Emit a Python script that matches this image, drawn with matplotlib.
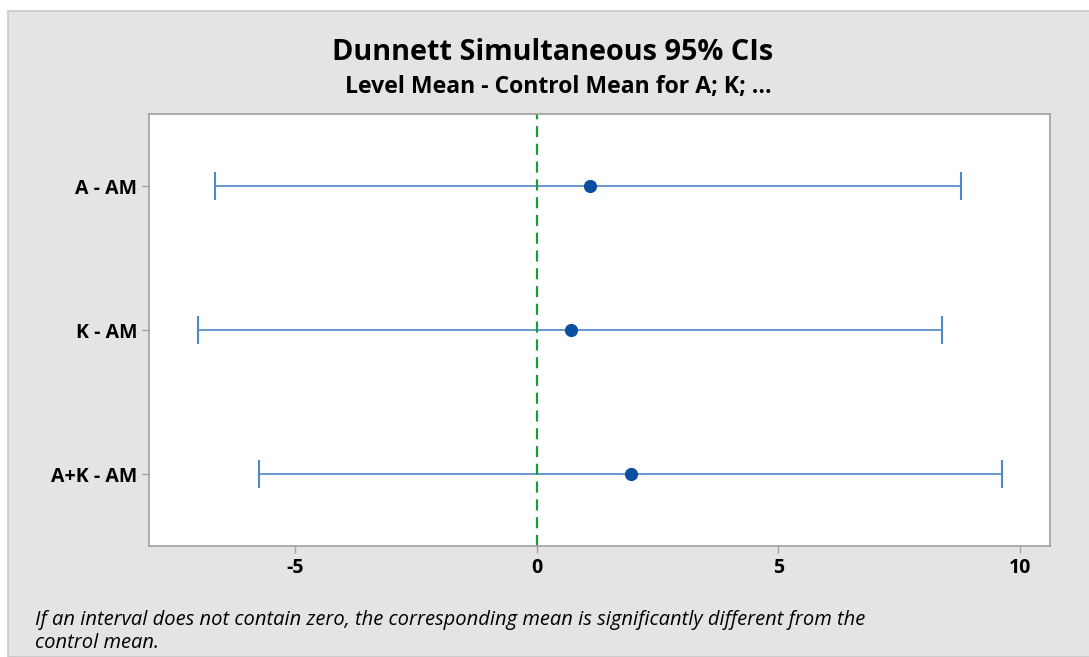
import matplotlib.pyplot as plt
from matplotlib.patches import Rectangle

# comparaciones contra el control
labels = ['A - AM', 'K - AM', 'A+K - AM']
centers = [1.10, 0.70, 1.95]
lowers = [-6.67, -7.02, -5.76]
uppers = [8.78, 8.39, 9.63]
xticks = [-5, 0, 5, 10]

plt.rcParams['font.family'] = ['Open Sans', 'DejaVu Sans']

fig = plt.figure(figsize=(10.89, 6.57), dpi=100, facecolor='white')
# panel gris de fondo
fig.patches.append(Rectangle((8 / 1089, 0), 1.0, 1 - 11 / 657, transform=fig.transFigure,
                             facecolor='#e4e4e4', edgecolor='#c8c8c8', linewidth=1.2, zorder=-10))

ax = fig.add_axes([149 / 1089, 1 - 546 / 657, (1050 - 149) / 1089, (546 - 114) / 657])
ax.set_facecolor('white')

ypos = [1, 2, 3]
for y, c, lo, hi in zip(ypos, centers, lowers, uppers):
    ax.errorbar(c, y, xerr=[[c - lo], [hi - c]], fmt='o', color='#0b4fa0', ecolor='#4f88c6',
                elinewidth=1.2, capsize=10, capthick=1.5, markersize=8.5)

ax.axvline(0, color='#1a9a3a', linestyle=(0, (5, 3)), linewidth=1.6)

ax.set_xlim(-8.03, 10.62)
ax.set_ylim(3.5, 0.5)
ax.set_yticks(ypos)
ax.set_yticklabels(labels, fontsize=14, fontweight='bold')
ax.set_xticks(xticks)
ax.set_xticklabels([str(t) for t in xticks], fontsize=14, fontweight='bold')
ax.tick_params(color='#a0a0a0', length=5, width=1)
for s in ax.spines.values():
    s.set_color('#a0a0a0')
    s.set_linewidth(1.2)

fig.text(553 / 1089, 1 - 53 / 657, 'Dunnett Simultaneous 95% CIs', ha='center', va='center',
         fontsize=20.8, fontweight='bold')
fig.text(558 / 1089, 1 - 87 / 657, 'Level Mean - Control Mean for A; K; ...', ha='center', va='center',
         fontsize=16.6, fontweight='bold')
fig.text(35 / 1089, 1 - 620 / 657,
         'If an interval does not contain zero, the corresponding mean is significantly different from the',
         ha='left', va='center', fontsize=14.5, style='italic')
fig.text(35 / 1089, 1 - 643 / 657, 'control mean.', ha='left', va='center', fontsize=14.5, style='italic')

fig.savefig('out.png', dpi=100, facecolor=fig.get_facecolor())
